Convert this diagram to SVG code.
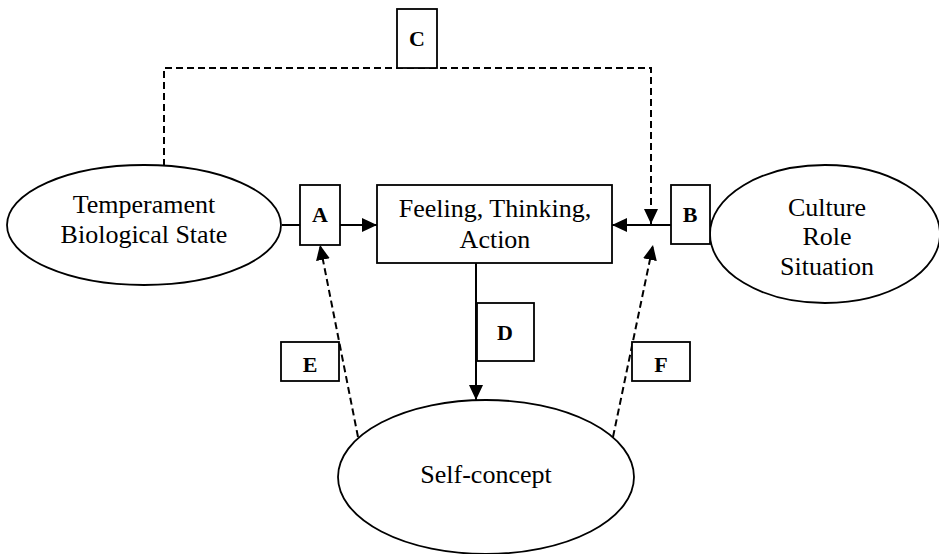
<svg xmlns="http://www.w3.org/2000/svg" width="939" height="554" viewBox="0 0 939 554">
<style>
.shape{fill:#fff;stroke:#000;stroke-width:1.8}
.lbl{font-family:'Liberation Serif','Times New Roman',serif;font-size:26px;text-anchor:middle;fill:#000}
.key{font-family:'Liberation Serif','Times New Roman',serif;font-size:22px;font-weight:bold;text-anchor:middle;fill:#000}
.solid{fill:none;stroke:#000;stroke-width:2}
.dash{fill:none;stroke:#000;stroke-width:2;stroke-dasharray:7 4}
</style>
<defs>
<marker id="arr" markerUnits="userSpaceOnUse" markerWidth="16" markerHeight="14" refX="15" refY="7" orient="auto">
<path d="M0,0 L15,7 L0,14 Z" fill="#000"/>
</marker>
</defs>
<rect width="939" height="554" fill="#fff"/>
<g id="connectors">
<line class="solid" x1="282" y1="225" x2="300" y2="225"/>
<line class="solid" x1="340" y1="225" x2="377" y2="225" marker-end="url(#arr)"/>
<line class="solid" x1="671" y1="225" x2="612" y2="225" marker-end="url(#arr)"/>
<polyline class="dash" points="164,166 164,68 651,68 651,224" marker-end="url(#arr)"/>
<line class="solid" x1="476" y1="263" x2="476" y2="400" marker-end="url(#arr)"/>
<line class="dash" x1="358" y1="437" x2="320" y2="245" marker-end="url(#arr)"/>
<line class="dash" x1="613" y1="437" x2="653" y2="245" marker-end="url(#arr)"/>
</g>
<g id="temperament">
<ellipse class="shape" cx="144" cy="225" rx="137" ry="60"/>
<text class="lbl" font-family="Liberation Serif, serif" x="144" y="213">Temperament</text>
<text class="lbl" font-family="Liberation Serif, serif" x="144" y="243">Biological State</text>
</g>
<g id="fta">
<rect class="shape" x="377" y="185" width="235" height="78"/>
<text class="lbl" font-family="Liberation Serif, serif" x="495" y="217">Feeling, Thinking,</text>
<text class="lbl" font-family="Liberation Serif, serif" x="495" y="248">Action</text>
</g>
<g id="culture">
<ellipse class="shape" cx="825" cy="234" rx="115" ry="69"/>
<text class="lbl" font-family="Liberation Serif, serif" x="827" y="216">Culture</text>
<text class="lbl" font-family="Liberation Serif, serif" x="827" y="245">Role</text>
<text class="lbl" font-family="Liberation Serif, serif" x="827" y="275">Situation</text>
</g>
<g id="selfconcept">
<ellipse class="shape" cx="486" cy="477" rx="148" ry="77"/>
<text class="lbl" font-family="Liberation Serif, serif" x="486" y="483">Self-concept</text>
</g>
<g id="boxA"><rect class="shape" x="300" y="185" width="40" height="60"/><text class="key" x="320" y="222">A</text></g>
<g id="boxB"><rect class="shape" x="671" y="185" width="39" height="59"/><text class="key" x="690" y="222">B</text></g>
<g id="boxC"><rect class="shape" x="397" y="9" width="40" height="59"/><text class="key" x="417" y="46">C</text></g>
<g id="boxD"><rect class="shape" x="477" y="303" width="57" height="58"/><text class="key" x="505" y="340">D</text></g>
<g id="boxE"><rect class="shape" x="281" y="342" width="58" height="39"/><text class="key" x="310" y="372">E</text></g>
<g id="boxF"><rect class="shape" x="632" y="342" width="58" height="39"/><text class="key" x="661" y="372">F</text></g>
</svg>
